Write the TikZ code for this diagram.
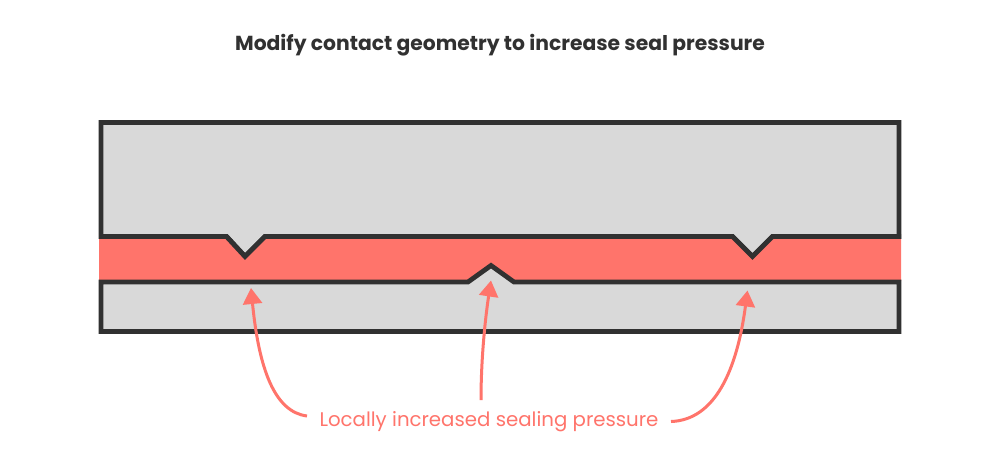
\documentclass[tikz,border=0pt]{standalone}
\usepackage{fontspec}
\setmainfont{Poppins}
\usetikzlibrary{arrows.meta}
\definecolor{sealred}{HTML}{FF746B}
\definecolor{blockgray}{HTML}{D9D9D9}
\definecolor{edgedark}{HTML}{313131}
\tikzset{
  block/.style={draw=edgedark,fill=blockgray,line width=4.8pt,miter limit=10},
  callout/.style={draw=sealred,line width=3pt,-{Triangle[length=16pt,width=19pt]}},
  titletext/.style={text=edgedark,font=\fontsize{20.3}{24}\selectfont\bfseries,inner sep=0pt},
  labeltext/.style={text=sealred,font=\fontsize{19.75}{24}\selectfont,inner sep=0pt}
}
\begin{document}
\begin{tikzpicture}[x=1pt,y=-1pt]
\useasboundingbox (0,0) rectangle (1000,463);
\fill[white] (0,0) rectangle (1000,463);
\draw[block] (101,122.5) -- (899,122.5) -- (899,236.5)
  -- (772.5,236.5) -- (752.5,256.5) -- (732.5,236.5)
  -- (265,236.5) -- (245,256.5) -- (226.5,236.5)
  -- (101,236.5) -- cycle;
\fill[sealred] (99,238.9) -- (226.5,238.9) -- (245,259.5) -- (265,238.9) -- (732.5,238.9) -- (752.5,259.5) -- (772.5,238.9) -- (901,238.9) -- (901,281) -- (99,281) -- cycle;
\draw[edgedark,line width=4.8pt] (99,236.5) -- (226.5,236.5) -- (245,256.5) -- (265,236.5) -- (732.5,236.5) -- (752.5,256.5) -- (772.5,236.5) -- (901,236.5);
\draw[block] (101,282) -- (468,282) -- (491,265.5) -- (514,282)
  -- (899,282) -- (899,331.5) -- (101,331.5) -- cycle;
\node[titletext] (title) at (500,45.5) {Modify contact geometry to increase seal pressure};
\node[labeltext] (label) at (489,421.5) {Locally increased sealing pressure};
\coordinate (s1) at (307,416);
\coordinate (t1) at (251,288);
\coordinate (s2) at (481,400);
\coordinate (t2) at (491,280.5);
\coordinate (s3) at (671,421.5);
\coordinate (t3) at (747.5,290.5);
\draw[callout] (s1) .. controls (275,412) and (259,370) .. (t1);
\draw[callout] (s2) .. controls (481,360) and (485,320) .. (t2);
\draw[callout] (s3) .. controls (715,420) and (737,370) .. (t3);
\end{tikzpicture}
\end{document}
